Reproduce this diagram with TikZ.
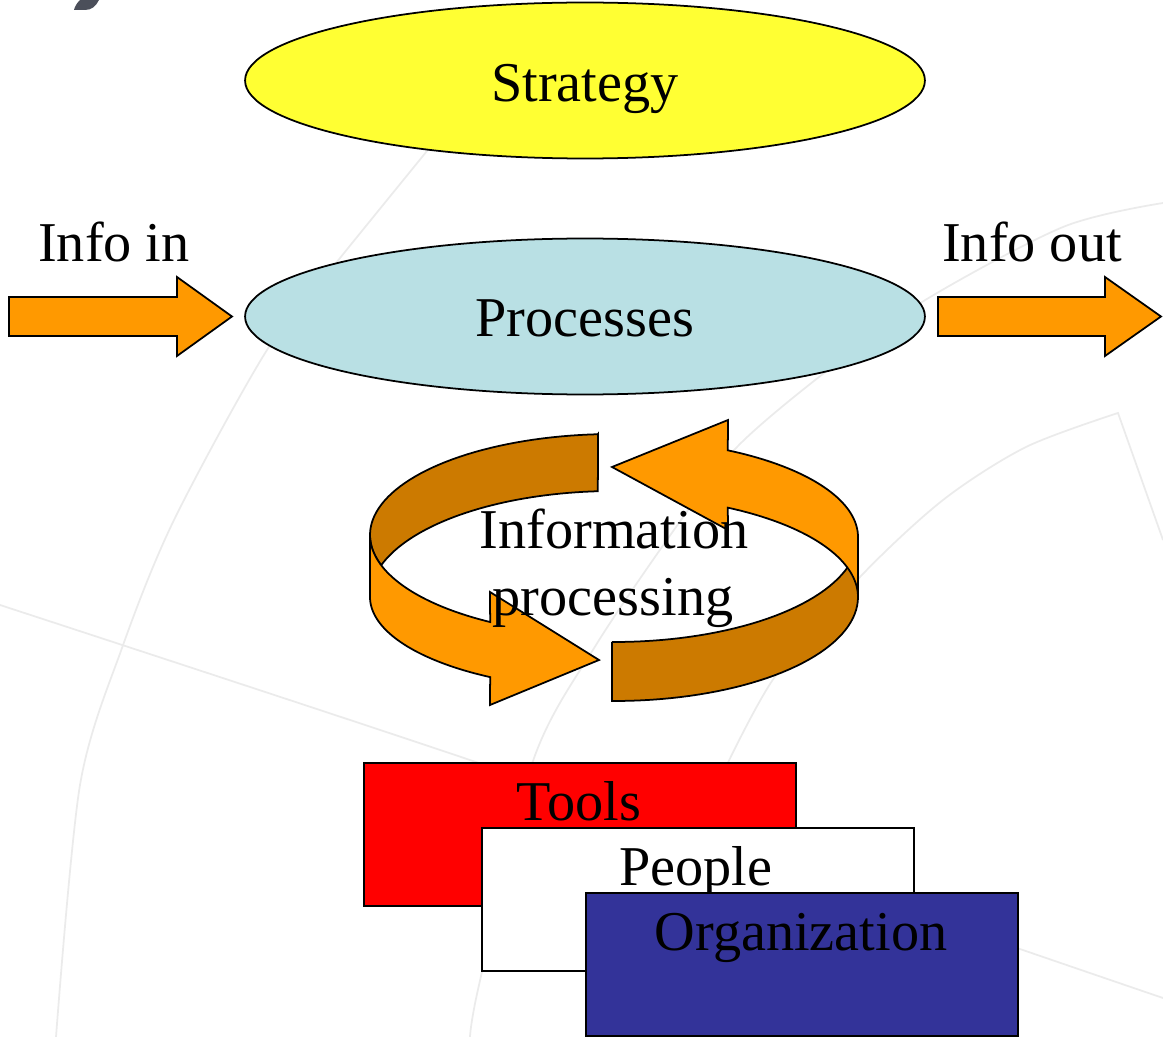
\documentclass[tikz,border=0pt]{standalone}
\usepackage{fontspec}
\setmainfont{Liberation Serif}
\usetikzlibrary{shapes.geometric}
\definecolor{stratyellow}{HTML}{FFFF33}
\definecolor{procblue}{HTML}{B9E0E4}
\definecolor{arroworange}{HTML}{FF9900}
\definecolor{arrowbrown}{HTML}{CC7A00}
\definecolor{toolred}{HTML}{FF0000}
\definecolor{orgblue}{HTML}{333399}
\definecolor{globegrey}{HTML}{EBEBEB}
\definecolor{titlegrey}{HTML}{4B4F5A}
\begin{document}
\begin{tikzpicture}[x=0.02cm, y=-0.02cm,
      every node/.style={inner sep=0pt, font=\fontsize{32}{38}\selectfont},
      word/.style={anchor=base},
      oval/.style={shape=ellipse, draw, line width=1pt, minimum width=13.6cm, minimum height=3.12cm},
      card/.style={draw, line width=1pt, anchor=north west, minimum width=8.64cm, minimum height=2.86cm},
      flat/.style={draw, line width=1pt, line join=miter},
      globe/.style={globegrey, line width=1pt}]
    \useasboundingbox (0,0) rectangle (1163,1037);
    \draw[globe] plot[smooth] coordinates {(440,135) (336,263) (267,350) (174,520) (122,648) (80,785) (56,1037)};
    \draw[globe] plot[smooth] coordinates {(1163,203) (1063,227) (922,302) (819,377) (737,447) (681,520) (596,645) (533,761) (479,985) (470,1037)};
    \draw[globe] plot[smooth] coordinates {(0,605) (464,758) (1017,948) (1163,998)};
    \draw[globe] plot[smooth] coordinates {(722,775) (774,678) (860,577) (943,500) (1026,447) (1118,413)} -- (1163,540);
    \fill[titlegrey] (80,0) -- (99,0) .. controls (96,6) and (92,10) .. (85,10) -- (74,10) .. controls (75,6) and (77,3) .. (80,0) -- cycle;
    \node[oval, fill=stratyellow] (strategy) at (585,80.5) {};
    \node[oval, fill=procblue] (processes) at (585,316.5) {};
    \node[word] (strategytext) at (585,102) {Strategy};
    \node[word] (processtext) at (585,337) {Processes};
    \node[word] (infoin) at (114,262) {Info in};
    \node[word] (infoout) at (1032,262) {Info out};
    \filldraw[flat, fill=arroworange] (9,297) -- (177,297) -- (177,277) -- (232,316.5) -- (177,356) -- (177,336) -- (9,336) -- cycle;
    \filldraw[flat, fill=arroworange] (938,297) -- (1105,297) -- (1105,277) -- (1161,316.5) -- (1105,356) -- (1105,336) -- (938,336) -- cycle;
    \filldraw[flat, fill=arrowbrown] (598,434)
      -- plot[domain=266.2:180, samples=40] ({614+244*cos(\x)},{535+101*sin(\x)})
      -- plot[domain=180:162.6, samples=10] ({614+244*cos(\x)},{535+101*sin(\x)})
      -- plot[domain=197.4:266.2, samples=40] ({614+244*cos(\x)},{597+106*sin(\x)}) -- cycle;
    \filldraw[flat, fill=arrowbrown] (612,642)
      -- plot[domain=90.5:0, samples=40] ({614+244*cos(\x)},{537+105*sin(\x)})
      -- (858,597)
      -- plot[domain=0:90.5, samples=40] ({614+244*cos(\x)},{597+104*sin(\x)}) -- cycle;
    \filldraw[flat, fill=arroworange] (728,420) -- (612,467) -- (728,530)
      -- plot[domain=297.8:360, samples=40] ({614+244*cos(\x)},{597+101*sin(\x)})
      -- (858,537)
      -- plot[domain=360:297.8, samples=40] ({614+244*cos(\x)},{537+98*sin(\x)}) -- cycle;
    \filldraw[flat, fill=arroworange] (370,535)
      -- plot[domain=180:120.5, samples=40] ({614+244*cos(\x)},{535+101*sin(\x)})
      -- (490,592) -- (599,660) -- (490,705)
      -- plot[domain=120.5:180, samples=40] ({614+244*cos(\x)},{597+93*sin(\x)}) -- cycle;
    \node[word] (infotop) at (614,548) {Information};
    \node[word] (infobottom) at (613,615) {processing};
    \node[card, fill=toolred] (tools) at (363,762) {};
    \node[word] (toolstext) at (579,820) {Tools};
    \node[card, fill=white] (people) at (481,827) {};
    \node[word] (peopletext) at (696,885) {People};
    \node[card, fill=orgblue] (organization) at (585,892) {};
    \node[word] (orgtext) at (801,950) {Organization};
\end{tikzpicture}
\end{document}
